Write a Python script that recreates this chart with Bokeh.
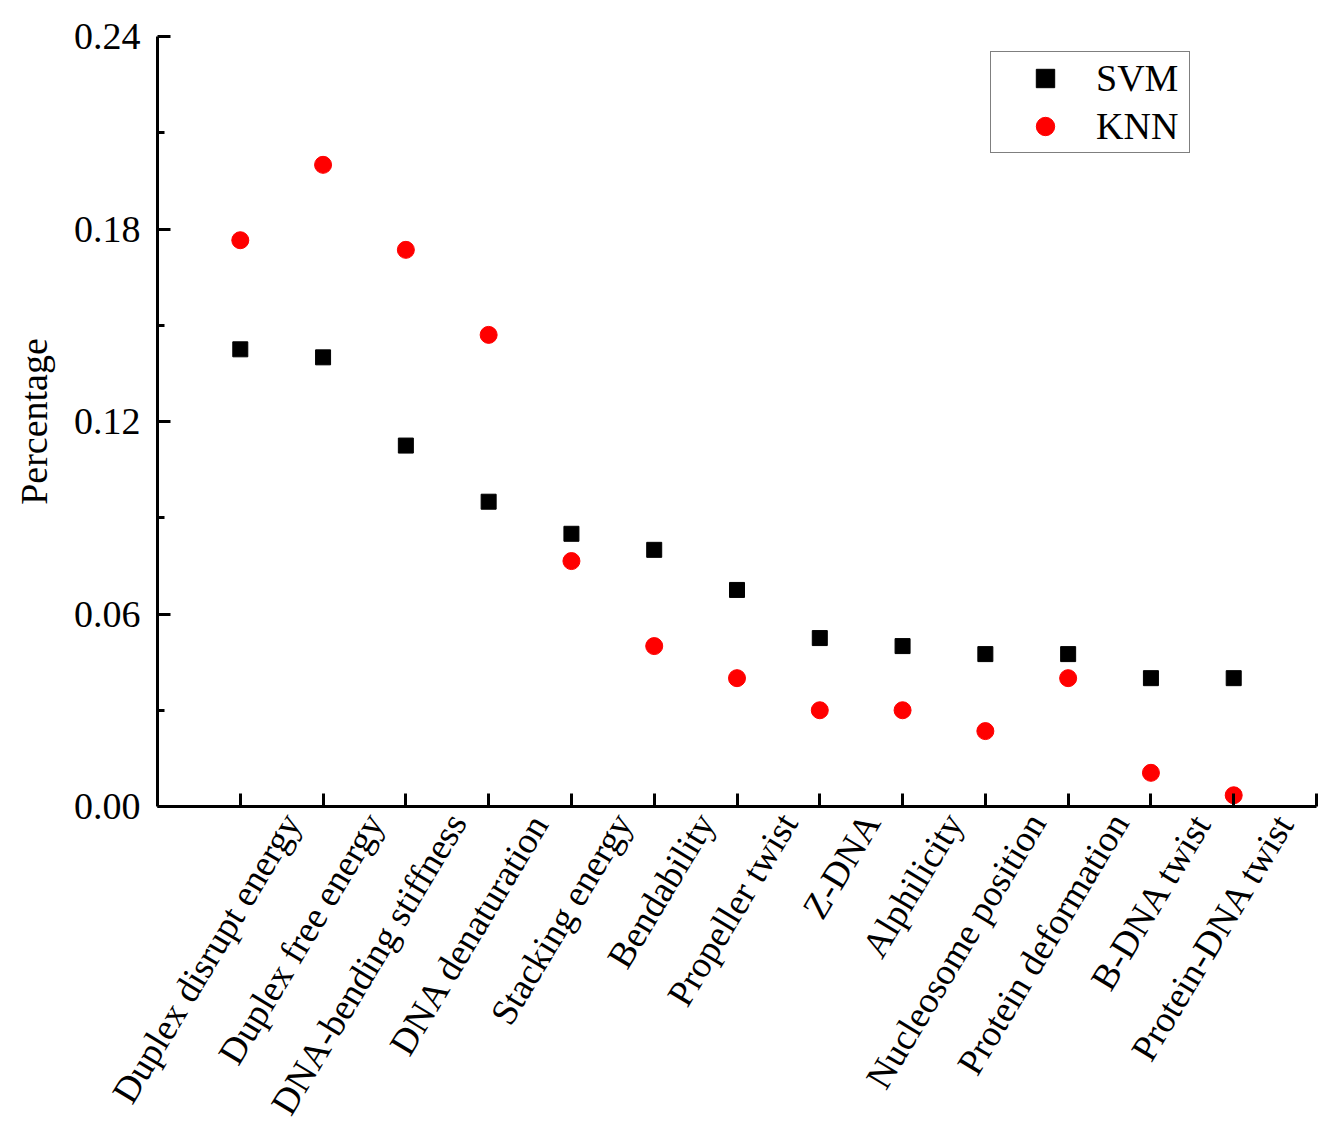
import math
from bokeh.plotting import figure
from bokeh.models import (ColumnDataSource, FixedTicker, NumeralTickFormatter,
                          Legend, LegendItem, LinearAxis, Range1d)
from bokeh.embed import file_html
from bokeh.resources import INLINE

categories = ["Duplex disrupt energy", "Duplex free energy", "DNA-bending stiffness",
              "DNA denaturation", "Stacking energy", "Bendability", "Propeller twist",
              "Z-DNA", "Alphilicity", "Nucleosome position", "Protein deformation",
              "B-DNA twist", "Protein-DNA twist"]
svm = [0.1425, 0.140, 0.1125, 0.095, 0.085, 0.080, 0.0675, 0.0525, 0.050, 0.0475,
       0.0475, 0.040, 0.040]
knn = [0.1765, 0.200, 0.1735, 0.147, 0.0765, 0.050, 0.040, 0.030, 0.030, 0.0235,
       0.040, 0.0105, 0.0035]
y_ticks = [0.0, 0.06, 0.12, 0.18, 0.24]
y_minor = [0.03, 0.09, 0.15, 0.21]

FONT = "Liberation Serif"
FS = "38px"

n = len(categories)
xs = list(range(1, n + 1))
src = ColumnDataSource(dict(x=xs, svm=svm, knn=knn))

p = figure(output_backend="svg", toolbar_location=None,
           frame_width=1159, frame_height=770,
           min_border_left=157, min_border_top=36, min_border_right=12,
           min_border_bottom=320,
           x_range=(0, n + 1), y_range=(0, 0.24))
p.outline_line_color = None
p.grid.visible = False
p.background_fill_color = "white"

r_svm = p.scatter("x", "svm", source=src, marker="square", size=15,
                  fill_color="black", line_color="black")
r_knn = p.scatter("x", "knn", source=src, marker="circle", size=17,
                  fill_color="#FF0000", line_color="#FF0000")

# x axis (line + inward ticks)
xa = p.xaxis[0]
xa.ticker = FixedTicker(ticks=list(range(1, n + 2)), minor_ticks=[])
xa.major_label_overrides = {i: "" for i in range(0, n + 2)}
xa.major_label_text_font_size = "1px"
xa.major_label_standoff = 0
xa.axis_line_width = 3
xa.major_tick_line_width = 3
xa.major_tick_in = 13
xa.major_tick_out = 0
xa.minor_tick_line_color = None

# category labels: an axis whose range is shifted so rotated labels sit like the original
shift = 0.62
p.extra_x_ranges = {"labels": Range1d(0 - shift, n + 1 - shift)}
la = LinearAxis(x_range_name="labels")
la.ticker = FixedTicker(ticks=xs, minor_ticks=[])
la.major_label_overrides = {i: c for i, c in zip(xs, categories)}
la.major_label_orientation = math.radians(59)
la.major_label_text_font = FONT
la.major_label_text_font_size = "37px"
la.major_label_text_color = "black"
la.major_label_standoff = 10
la.axis_line_color = None
la.major_tick_line_color = None
la.minor_tick_line_color = None
la.major_tick_in = 0
la.major_tick_out = 0
p.add_layout(la, "below")

# y axis
ya = p.yaxis[0]
ya.ticker = FixedTicker(ticks=y_ticks, minor_ticks=y_minor)
ya.formatter = NumeralTickFormatter(format="0.00")
ya.axis_line_width = 3
ya.major_tick_line_width = 3
ya.minor_tick_line_width = 3
ya.major_tick_in = 13
ya.major_tick_out = 0
ya.minor_tick_in = 7
ya.minor_tick_out = 0
ya.major_label_standoff = 17
ya.major_label_text_font = FONT
ya.major_label_text_font_size = FS
ya.major_label_text_color = "black"
ya.axis_label = "Percentage"
ya.axis_label_text_font = FONT
ya.axis_label_text_font_size = FS
ya.axis_label_text_font_style = "normal"
ya.axis_label_text_color = "black"
ya.axis_label_standoff = 16

legend = Legend(items=[LegendItem(label="SVM", renderers=[r_svm]),
                       LegendItem(label="KNN", renderers=[r_knn])],
                location=(833, 653))
legend.label_text_font = FONT
legend.label_text_font_size = FS
legend.label_text_color = "black"
legend.glyph_width = 102
legend.glyph_height = 46
legend.spacing = 2
legend.padding = 3
legend.margin = 0
legend.label_standoff = 0
legend.label_width = 90
legend.border_line_color = "black"
legend.border_line_width = 1
legend.background_fill_alpha = 1
p.add_layout(legend)

open("out.html", "w").write(file_html(p, INLINE))
